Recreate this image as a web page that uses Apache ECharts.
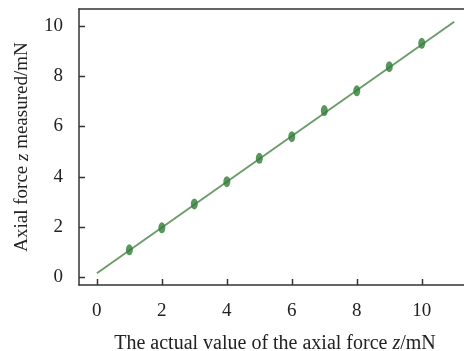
<!DOCTYPE html>
<html><head><meta charset="utf-8">
<script src="https://cdn.jsdelivr.net/npm/echarts@6/dist/echarts.min.js"></script>
<style>html,body{margin:0;padding:0;background:#fff}#c{width:464px;height:351px}</style>
</head><body><div id="c"></div>
<script>
const actualValues = [1, 2, 3, 4, 5, 6, 7, 8, 9, 10];
const measuredValues = [1.08, 1.96, 2.91, 3.80, 4.73, 5.59, 6.63, 7.42, 8.38, 9.31];
const fitX = [0, 11];
const fitY = [0.15, 10.17];
const xTicks = [0, 2, 4, 6, 8, 10];
const yTicks = [0, 2, 4, 6, 8, 10];

const font = 'Liberation Serif';
const axisCol = '#333';
const TICK_LEN = 6;

function tickRenderer(isX) {
  return function (params, api) {
    const cs = params.coordSys;
    const v = api.value(isX ? 0 : 1);
    if (isX) {
      const px = Math.round(api.coord([v, 0])[0]) + 0.5;
      const y0 = cs.y + cs.height;
      return {type: 'line', shape: {x1: px, y1: y0, x2: px, y2: y0 - TICK_LEN},
        style: {stroke: axisCol, lineWidth: 1.5}};
    }
    const py = Math.round(api.coord([0, v])[1]) + 0.5;
    return {type: 'line', shape: {x1: cs.x, y1: py, x2: cs.x + TICK_LEN, y2: py},
      style: {stroke: axisCol, lineWidth: 1.5}};
  };
}

const chart = echarts.init(document.getElementById('c'), null, {renderer: 'canvas'});
chart.setOption({
  animation: false,
  grid: {left: 79, right: 0, top: 9, bottom: 66, outerBoundsMode: 'none', containLabel: false},
  xAxis: [{
    type: 'value', min: -0.55, max: 11.3, position: 'bottom',
    axisLine: {show: true, onZero: false, lineStyle: {color: axisCol, width: 1.5}},
    axisTick: {show: false},
    axisLabel: {customValues: xTicks, fontFamily: font, fontSize: 19, color: '#222', margin: 17},
    splitLine: {show: false},
    name: 'The actual value of the axial force {i|z}/mN',
    nameLocation: 'middle', nameGap: 49,
    nameTextStyle: {fontFamily: font, fontSize: 20, color: '#222', padding: [0, 0, 0, 7],
      rich: {i: {fontFamily: font, fontSize: 20, fontStyle: 'italic', color: '#222'}}}
  }, {
    type: 'value', position: 'top', min: -0.55, max: 11.3,
    axisLine: {show: true, onZero: false, lineStyle: {color: axisCol, width: 1.5}},
    axisTick: {show: false}, axisLabel: {show: false}, splitLine: {show: false}
  }],
  yAxis: {
    type: 'value', min: -0.32, max: 10.68, position: 'left',
    axisLine: {show: true, onZero: false, lineStyle: {color: axisCol, width: 1.5}},
    axisTick: {show: false},
    axisLabel: {customValues: yTicks, fontFamily: font, fontSize: 19, color: '#222', margin: 16},
    splitLine: {show: false},
    name: 'Axial force {i|z} measured/mN',
    nameLocation: 'middle', nameGap: 47,
    nameTextStyle: {fontFamily: font, fontSize: 19, color: '#222',
      rich: {i: {fontFamily: font, fontSize: 19, fontStyle: 'italic', color: '#222'}}}
  },
  series: [{
    type: 'custom', renderItem: tickRenderer(true), clip: false, silent: true,
    data: xTicks.map(v => [v, 0]), z: 5
  }, {
    type: 'custom', renderItem: tickRenderer(false), clip: false, silent: true,
    data: yTicks.map(v => [0, v]), z: 5
  }, {
    type: 'line',
    data: fitX.map((x, i) => [x, fitY[i]]),
    showSymbol: false, symbol: 'none',
    lineStyle: {color: '#6d9c6b', width: 2},
    z: 2
  }, {
    type: 'scatter',
    data: actualValues.map((x, i) => [x, measuredValues[i]]),
    symbol: 'circle', symbolSize: [7, 11],
    itemStyle: {color: '#2f7d36'},
    z: 3
  }]
});
</script></body></html>
